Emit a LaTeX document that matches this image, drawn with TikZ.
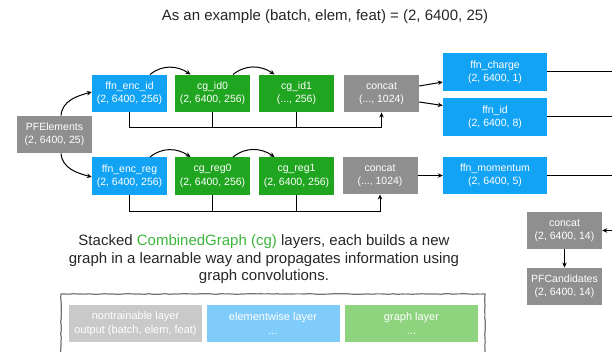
\documentclass[tikz,border=0pt]{standalone}
\usepackage{fontspec}
\setmainfont{Liberation Sans}
\usepackage{xcolor}
\usetikzlibrary{arrows.meta,decorations.pathmorphing}

\definecolor{boxblue}{HTML}{12A3F5}
\definecolor{boxgreen}{HTML}{1FA51F}
\definecolor{boxgray}{HTML}{8F8F8F}
\definecolor{legray}{HTML}{C9C9C9}
\definecolor{leblue}{HTML}{7FCBFA}
\definecolor{legreen}{HTML}{8ED47E}
\definecolor{cgtext}{HTML}{3BB53B}

\tikzset{
    layer/.style={minimum width=75pt, minimum height=37.5pt, inner sep=0pt, align=center,
        text=white, font=\fontsize{10.5}{13.4}\selectfont},
    enc/.style={layer, fill=boxblue},
    cg/.style={layer, fill=boxgreen},
    fixed/.style={layer, fill=boxgray},
    head/.style={enc, minimum width=104pt},
    legendbox/.style={layer, minimum width=133pt, minimum height=37pt,
        font=\fontsize{11}{13.5}\selectfont},
    link/.style={->, line width=1pt},
    wire/.style={line width=1pt},
    >={Stealth[length=5pt,width=4.5pt]},
}

\begin{document}
\begin{tikzpicture}[x=1pt, y=-1pt] % 1pt per pixel, y downwards
    \clip (0,0) rectangle (612,352);

    % Title
    \node[font=\fontsize{15}{18}\selectfont, text=black!85] (title) at (325,17)
        {As an example (batch, elem, feat) = (2, 6400, 25)};

    % Input
    \node[fixed] (pfel) at (54.5,134.5) {PFElements\\(2, 6400, 25)};

    % id branch
    \node[enc] (encid) at (129.5,93.5) {ffn\_enc\_id\\(2, 6400, 256)};
    \node[cg] (cgid0) at (212.5,93.5) {cg\_id0\\(2, 6400, 256)};
    \node[cg] (cgid1) at (296.5,93.5) {cg\_id1\\(..., 256)};
    \node[fixed] (concatid) at (381.5,93.5) {concat\\(..., 1024)};
    \node[head] (charge) at (495,72) {ffn\_charge\\(2, 6400, 1)};
    \node[head] (ffnid) at (495,117) {ffn\_id\\(2, 6400, 8)};

    % reg branch
    \node[enc] (encreg) at (129.5,176) {ffn\_enc\_reg\\(2, 6400, 256)};
    \node[cg] (cgreg0) at (212.5,176) {cg\_reg0\\(2, 6400, 256)};
    \node[cg] (cgreg1) at (296.5,176) {cg\_reg1\\(2, 6400, 256)};
    \node[fixed] (concatreg) at (380,175.5) {concat\\(..., 1024)};
    \node[head] (momentum) at (495,175.5) {ffn\_momentum\\(2, 6400, 5)};

    % Output
    \node[fixed] (concatout) at (564.5,230.5) {concat\\(2, 6400, 14)};
    \node[fixed] (pfcand) at (564.5,286.5) {PFCandidates\\(2, 6400, 14)};

    \coordinate (busid) at (0,128);
    \coordinate (busreg) at (0,212);
    \coordinate (edge) at (612,0);

    % Split of the input
    \draw[link] ([xshift=6.5pt]pfel.north) to[out=85,in=195] ([yshift=1.5pt]encid.west);
    \draw[link] ([xshift=6.5pt]pfel.south) to[out=-85,in=165] ([yshift=-1pt]encreg.west);

    % Stacked layers
    \draw[link] ([xshift=20.5pt]encid.north) to[out=40,in=145] ([xshift=-22pt]cgid0.north);
    \draw[link] ([xshift=20.5pt]cgid0.north) to[out=40,in=145] ([xshift=-22pt]cgid1.north);
    \draw[link] ([xshift=20.5pt]encreg.north) to[out=40,in=145] ([xshift=-22pt]cgreg0.north);
    \draw[link] ([xshift=20.5pt]cgreg0.north) to[out=40,in=145] ([xshift=-22pt]cgreg1.north);

    % Skip connections into concat
    \draw[link] (encid.south) |- (concatid.south |- busid) -- (concatid.south);
    \draw[wire] (cgid0.south) -- (cgid0.south |- busid);
    \draw[wire] (cgid1.south) -- (cgid1.south |- busid);
    \draw[link] (encreg.south) |- (concatreg.south |- busreg) -- (concatreg.south);
    \draw[wire] (cgreg0.south) -- (cgreg0.south |- busreg);
    \draw[wire] (cgreg1.south) -- (cgreg1.south |- busreg);

    % Heads
    \draw[link] ([yshift=7.5pt]concatid.east) -- ([yshift=-10pt]charge.west);
    \draw[link] ([yshift=-8.5pt]concatid.east) -- ([yshift=11.5pt]ffnid.west);
    \draw[link] (concatreg.east) -- (momentum.west);
    \draw[wire] (charge.east) -- (charge.east -| edge);
    \draw[wire] (ffnid.east) -- (ffnid.east -| edge);
    \draw[wire] (momentum.east) -- (momentum.east -| edge);
    \draw[link] (edge |- concatout.east) -- (concatout.east);
    \draw[link] (concatout.south) -- (pfcand.north);

    % Caption
    \node[font=\fontsize{15}{17.5}\selectfont, align=center, text=black!85] (caption) at (264,259.5)
        {Stacked \textcolor{cgtext}{CombinedGraph (cg)} layers, each builds a new\\
         graph in a learnable way and propagates information using\\
         graph convolutions.};

    % Legend
    \draw[black!55, line width=1.2pt, decorate,
        decoration={random steps, segment length=4pt, amplitude=0.35pt}]
        (61,294) rectangle (485,370);
    \node[legendbox, fill=legray] (lgfixed) at (135.5,323.5) {nontrainable layer\\output (batch, elem, feat)};
    \node[legendbox, fill=leblue] (lgenc) at (273,323.5) {elementwise layer\\...};
    \node[legendbox, fill=legreen] (lgcg) at (411.5,323.5) {graph layer\\...};
\end{tikzpicture}
\end{document}
